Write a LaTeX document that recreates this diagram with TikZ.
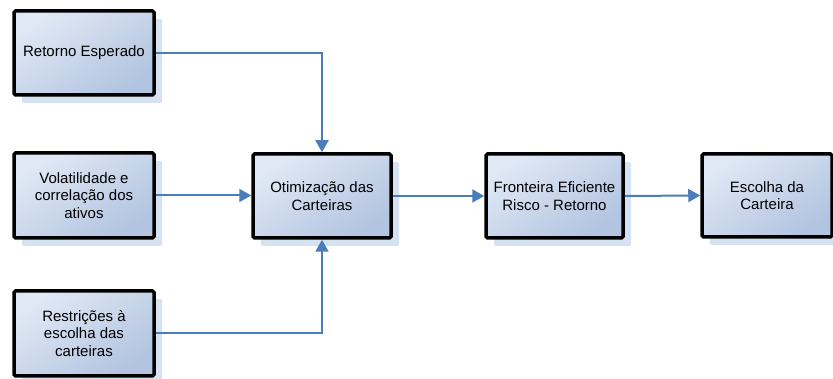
\documentclass[tikz,border=0pt]{standalone}
\usepackage{fontspec}
\setmainfont{Liberation Sans}
\usetikzlibrary{arrows.meta,shadows}
\definecolor{boxlight}{RGB}{224,232,245}
\definecolor{boxdark}{RGB}{178,196,224}
\definecolor{shadowblue}{RGB}{214,225,242}
\definecolor{arrowblue}{RGB}{74,126,187}
\tikzset{
  flowbox/.style={draw=black, line width=3.5pt, rounded corners=1.5pt,
    top color=boxlight, bottom color=boxdark, shading angle=35,
    minimum height=84pt, align=center,
    font=\fontsize{15pt}{17.5pt}\selectfont,
    general shadow={fill=shadowblue, shadow xshift=8pt, shadow yshift=-8pt, draw=none}},
  conn/.style={draw=arrowblue, line width=2pt, -{Triangle[length=12pt,width=13pt]}}
}
\begin{document}
\begin{tikzpicture}[x=1pt,y=1pt]
\useasboundingbox (0,0) rectangle (833,379);
\node[flowbox, minimum width=140pt] (ret) at (84,326) {Retorno Esperado};
\node[flowbox, minimum width=140pt, minimum height=85pt] (vol) at (84,183.5) {Volatilidade e\\correlação dos\\ativos};
\node[flowbox, minimum width=140pt, minimum height=85pt] (res) at (84,45.5) {Restrições à\\escolha das\\carteiras};
\node[flowbox, minimum width=138pt] (oti) at (322,183) {Otimização das\\Carteiras};
\node[flowbox, minimum width=137pt] (fro) at (554.5,183) {Fronteira Eficiente\\Risco - Retorno};
\node[flowbox, minimum width=130pt, minimum height=83pt] (esc) at (767,183.5) {Escolha da\\Carteira};
\draw[conn] (ret.east) -| (oti.north);
\draw[conn] (res.east) -| (oti.south);
\draw[conn] (vol.east) -- (vol.east -| oti.west);
\draw[conn] (oti.east) -- (fro.west);
\draw[conn] (fro.east) -- (esc.west);
\end{tikzpicture}
\end{document}
